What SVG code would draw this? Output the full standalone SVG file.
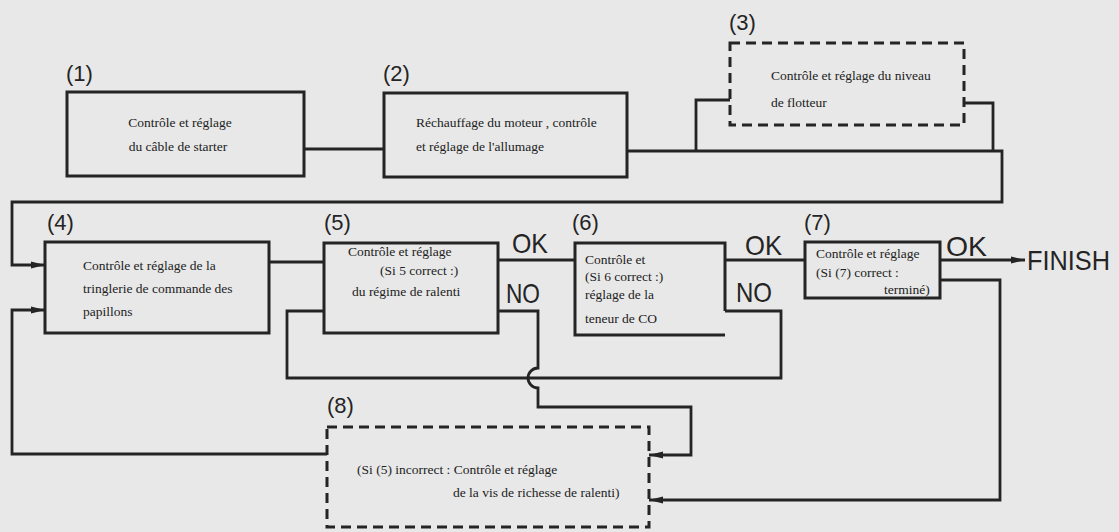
<svg xmlns="http://www.w3.org/2000/svg" width="1119" height="532" viewBox="0 0 1119 532">
  <style>
    .box { fill: none; stroke: #242424; stroke-width: 3; }
    .dash { fill: none; stroke: #242424; stroke-width: 3; stroke-dasharray: 10 6; }
    .wire { fill: none; stroke: #242424; stroke-width: 2.8; stroke-linejoin: miter; }
    .t { font-family: "Liberation Serif", "DejaVu Serif", serif; font-size: 13.5px; fill: #222; }
    .num { font-family: "Liberation Sans", Arial, sans-serif; font-size: 22px; fill: #242424; }
    .big { font-family: "Liberation Sans", Arial, sans-serif; font-size: 28px; fill: #242424; }
  </style>
  <defs>
    <marker id="arrow" markerUnits="userSpaceOnUse" markerWidth="15" markerHeight="10" refX="14" refY="5" orient="auto">
      <path d="M0,1.5 L14,5 L0,8.5 Z" fill="#242424"/>
    </marker>
  </defs>

  <rect x="0" y="0" width="1119" height="532" fill="#e8e8e8"/>

  <!-- connectors -->
  <g id="connectors">
    <!-- 1 to 2 -->
    <path class="wire" d="M304,149 H384"/>
    <!-- 2 onward, with the float-level branch (3) -->
    <path class="wire" d="M627,151 H1002 V202 H12 V265 H45" marker-end="url(#arrow)"/>
    <path class="wire" d="M696,151 V100 H730"/>
    <path class="wire" d="M964,103 H993 V151"/>
    <!-- 4 to 5 -->
    <path class="wire" d="M269,262 H324"/>
    <!-- 5 OK to 6 -->
    <path class="wire" d="M498,260 H575"/>
    <!-- 6 OK to 7 -->
    <path class="wire" d="M725,260 H805"/>
    <!-- 7 OK to finish -->
    <path class="wire" d="M940,260 H1025" marker-end="url(#arrow)"/>
    <!-- 6 NO loops back to 5 -->
    <path class="wire" d="M725,311 H781 V378 H287 V311 H324"/>
    <!-- 5 NO to 8, hopping over the loop line -->
    <path class="wire" d="M498,311 H538 V368 A10,10 0 0 0 538,388 V407 H691 V455 H649" marker-end="url(#arrow)"/>
    <!-- 7 NO to 8 -->
    <path class="wire" d="M940,280 H1000 V500 H649" marker-end="url(#arrow)"/>
    <!-- 8 back to 4 -->
    <path class="wire" d="M327,454 H12 V310 H45" marker-end="url(#arrow)"/>
  </g>

  <g id="node1">
    <text class="num" x="66" y="81">(1)</text>
    <rect class="box" x="67" y="92" width="237" height="84"/>
    <text class="t" x="180" y="127" text-anchor="middle">Contrôle et réglage</text>
    <text class="t" x="178" y="151" text-anchor="middle">du câble de starter</text>
  </g>

  <g id="node2">
    <text class="num" x="383" y="81">(2)</text>
    <rect class="box" x="384" y="93" width="243" height="84"/>
    <text class="t" x="416" y="127">Réchauffage du moteur , contrôle</text>
    <text class="t" x="416" y="151">et réglage de l'allumage</text>
  </g>

  <g id="node3">
    <text class="num" x="729" y="30">(3)</text>
    <rect class="dash" x="730" y="43" width="234" height="82"/>
    <text class="t" x="771" y="80">Contrôle et réglage du niveau</text>
    <text class="t" x="771" y="107">de flotteur</text>
  </g>

  <g id="node4">
    <text class="num" x="47" y="230">(4)</text>
    <rect class="box" x="45" y="242" width="224" height="91"/>
    <text class="t" x="83" y="270">Contrôle et réglage de la</text>
    <text class="t" x="83" y="293">tringlerie de commande des</text>
    <text class="t" x="83" y="316">papillons</text>
  </g>

  <g id="node5">
    <text class="num" x="324" y="230">(5)</text>
    <rect class="box" x="324" y="243" width="174" height="90"/>
    <text class="t" x="348" y="256">Contrôle et réglage</text>
    <text class="t" x="380" y="275">(Si 5 correct :)</text>
    <text class="t" x="352" y="296">du régime de ralenti</text>
    <text class="big" x="512" y="253" textLength="36" lengthAdjust="spacingAndGlyphs">OK</text>
    <text class="big" x="506" y="303" textLength="34" lengthAdjust="spacingAndGlyphs">NO</text>
  </g>

  <g id="node6">
    <text class="num" x="572" y="230">(6)</text>
    <path class="box" d="M725,311 V243 H575 V335 H725"/>
    <text class="t" x="585" y="264">Contrôle et</text>
    <text class="t" x="585" y="281">(Si 6 correct :)</text>
    <text class="t" x="585" y="299">réglage de la</text>
    <text class="t" x="585" y="323">teneur de CO</text>
    <text class="big" x="745" y="255" textLength="37" lengthAdjust="spacingAndGlyphs">OK</text>
    <text class="big" x="736" y="302" textLength="36" lengthAdjust="spacingAndGlyphs">NO</text>
  </g>

  <g id="node7">
    <text class="num" x="804" y="230">(7)</text>
    <rect class="box" x="805" y="242" width="135" height="56"/>
    <text class="t" x="816" y="258">Contrôle  et réglage</text>
    <text class="t" x="816" y="277">(Si (7) correct :</text>
    <text class="t" x="884" y="294">terminé)</text>
    <text class="big" x="946" y="256" textLength="41" lengthAdjust="spacingAndGlyphs">OK</text>
  </g>

  <g id="finish">
    <text class="big" x="1027" y="270" textLength="83" lengthAdjust="spacingAndGlyphs">FINISH</text>
  </g>

  <g id="node8">
    <text class="num" x="327" y="413">(8)</text>
    <rect class="dash" x="327" y="427" width="322" height="100"/>
    <text class="t" x="357" y="474">(Si (5) incorrect : Contrôle et réglage</text>
    <text class="t" x="453" y="497">de la vis de richesse de ralenti)</text>
  </g>
</svg>
